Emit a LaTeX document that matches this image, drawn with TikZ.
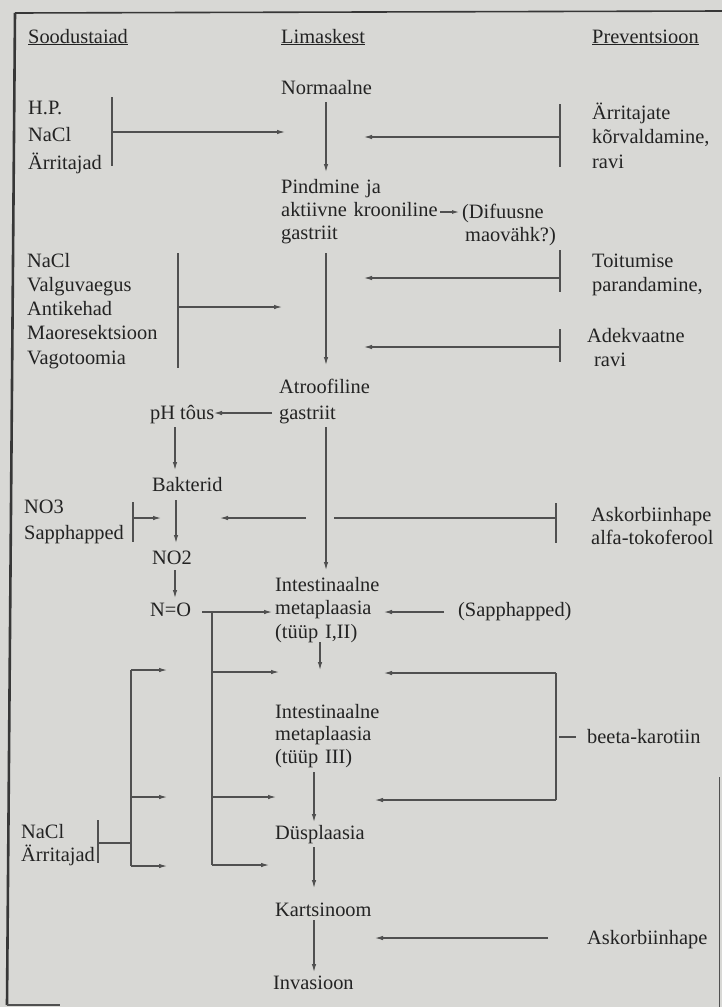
\documentclass[tikz,border=0pt]{standalone}
\usepackage{fontspec}
\setmainfont{Liberation Serif}
\usetikzlibrary{arrows.meta}
\definecolor{bg}{RGB}{216,216,213}
\definecolor{ink}{RGB}{35,35,35}
\definecolor{linec}{RGB}{80,80,80}
\definecolor{frame}{RGB}{55,55,55}
\newcommand\mlfont[1]{\fontsize{20.4}{#1}\selectfont\lineskiplimit=-30pt\relax\parindent=0pt\relax}
\tikzset{
  txt/.style={font=\fontsize{20.4}{24}\selectfont, text=ink, inner sep=0pt, anchor=base west},
  ml/.style={txt, text width=170pt, align=left, font=\mlfont{#1}},
  ln/.style={line width=1.1pt, draw=linec},
  arr/.style={ln, -{Latex[length=8pt,width=4.5pt]}},
}
\begin{document}
\begin{tikzpicture}[x=1pt,y=-1pt]
\useasboundingbox (0,0) rectangle (722,1007);
\fill[bg] (0,0) rectangle (722,1007);
% frame
\coordinate (ftl) at (15,13);
\coordinate (ftr) at (722,11);
\coordinate (fbl) at (7,1005);
\coordinate (fbr) at (60,1005);
\coordinate (rrt) at (719,777);
\coordinate (rrb) at (719,1007);
\draw[line width=2.6pt, draw=frame] (ftl) -- (fbl);
\draw[line width=1.6pt, draw=frame] (ftl) -- (ftr);
\draw[line width=1.2pt, draw=linec] (fbl) -- (fbr);
\draw[line width=0.8pt, draw=linec] (rrt) -- (rrb);

% headings
\node[txt] (hs) at (28,43) {\underline{Soodustaiad}};
\node[txt] (hl) at (281,43) {\underline{Limaskest}};
\node[txt] (hp) at (592,43) {\underline{Preventsioon}};

% central column
\node[txt] (norm) at (281,94) {Normaalne};
\node[ml=23] (pind) at (281,193) {Pindmine ja\\aktiivne krooniline\\gastriit};
\node[ml=23] (dif) at (462,218) {(Difuusne\\\hspace*{3pt}maovähk?)};
\node[ml=26] (atro) at (279,393) {Atroofiline\\gastriit};
\node[txt] (ph) at (150,419) {pH tôus};
\node[txt] (bakt) at (152,491) {Bakterid};
\node[txt] (no2) at (152,564) {NO2};
\node[txt] (nox) at (150,616) {N=O};
\node[ml=23.5] (int1) at (275,591) {Intestinaalne\\metaplaasia\\(tüüp I,II)};
\node[txt] (sapp) at (458,616) {(Sapphapped)};
\node[ml=22.5] (int2) at (275,718) {Intestinaalne\\metaplaasia\\(tüüp III)};
\node[txt] (dys) at (275,839) {Düsplaasia};
\node[txt] (kart) at (275,916) {Kartsinoom};
\node[txt] (inv) at (273,989) {Invasioon};

% left column
\node[ml=27.5] (l1) at (28,114) {H.P.\\NaCl\\Ärritajad};
\node[ml=24.25] (l2) at (27,267) {NaCl\\Valguvaegus\\Antikehad\\Maoresektsioon\\Vagotoomia};
\node[ml=26] (l3) at (24,513) {NO3\\Sapphapped};
\node[ml=23] (l4) at (21,838) {NaCl\\Ärritajad};

% right column
\node[ml=24.5] (r1) at (592,119) {Ärritajate\\kõrvaldamine,\\ravi};
\node[ml=24] (r2) at (592,267) {Toitumise\\parandamine,};
\node[ml=24] (r3) at (587,342) {Adekvaatne\\\hspace*{7pt}ravi};
\node[ml=23] (r4) at (591,521) {Askorbiinhape\\alfa-tokoferool};
\node[txt] (r5) at (587,743) {beeta-karotiin};
\node[txt] (r6) at (587,944) {Askorbiinhape};

% ---- section 1
\coordinate (b1t) at (112,97);  \coordinate (b1b) at (112,166);
\coordinate (b1m) at (112,132); \coordinate (e1) at (285,132);
\draw[ln] (b1t) -- (b1b);
\draw[arr] (b1m) -- (e1);
\coordinate (c1s) at (326,102); \coordinate (c1e) at (326,172);
\draw[arr] (c1s) -- (c1e);
\coordinate (rb1t) at (560,104); \coordinate (rb1b) at (560,167);
\coordinate (rb1m) at (560,137); \coordinate (re1) at (364,137);
\draw[ln] (rb1t) -- (rb1b);
\draw[arr] (rb1m) -- (re1);

% ---- section 2
\coordinate (ds) at (440,212); \coordinate (de) at (459,212);
\draw[ln, -{Latex[length=7pt,width=4pt]}] (ds) -- (de);
\coordinate (b2t) at (178,253); \coordinate (b2b) at (178,368);
\coordinate (b2m) at (178,307); \coordinate (e2) at (282,307);
\draw[ln] (b2t) -- (b2b);
\draw[arr] (b2m) -- (e2);
\coordinate (c2s) at (326,253); \coordinate (c2e) at (326,365);
\draw[arr] (c2s) -- (c2e);
\coordinate (rb2t) at (560,250); \coordinate (rb2b) at (560,292);
\coordinate (rb2m) at (560,278); \coordinate (re2) at (364,278);
\draw[ln] (rb2t) -- (rb2b);
\draw[arr] (rb2m) -- (re2);
\coordinate (rb3t) at (560,329); \coordinate (rb3b) at (560,362);
\coordinate (rb3m) at (560,347); \coordinate (re3) at (364,347);
\draw[ln] (rb3t) -- (rb3b);
\draw[arr] (rb3m) -- (re3);

% ---- section 3
\coordinate (phs) at (272,413); \coordinate (phe) at (214,413);
\draw[arr] (phs) -- (phe);
\coordinate (p2s) at (175,427); \coordinate (p2e) at (175,470);
\draw[arr] (p2s) -- (p2e);
\coordinate (k2s) at (176,500); \coordinate (k2e) at (176,543);
\draw[arr] (k2s) -- (k2e);
\coordinate (b3t) at (133,502); \coordinate (b3b) at (133,542);
\coordinate (b3m) at (133,518); \coordinate (e3) at (161,518);
\draw[ln] (b3t) -- (b3b);
\draw[arr] (b3m) -- (e3);
\coordinate (c3s) at (326,427); \coordinate (c3e) at (326,570);
\draw[arr] (c3s) -- (c3e);
\coordinate (rb4t) at (556,503); \coordinate (rb4b) at (556,543);
\coordinate (rb4m) at (556,518); \coordinate (g1) at (334,518);
\coordinate (g2) at (306,518); \coordinate (re4) at (220,518);
\draw[ln] (rb4t) -- (rb4b);
\draw[ln] (rb4m) -- (g1);
\draw[arr] (g2) -- (re4);

% ---- section 4
\coordinate (n2s) at (175,570); \coordinate (n2e) at (175,598);
\draw[arr] (n2s) -- (n2e);
\coordinate (nos) at (202,612); \coordinate (noe) at (272,612);
\draw[arr] (nos) -- (noe);
\coordinate (sps) at (444,612); \coordinate (spe) at (384,612);
\draw[arr] (sps) -- (spe);
\coordinate (i1s) at (320,642); \coordinate (i1e) at (320,670);
\draw[arr] (i1s) -- (i1e);
% N=O branch
\coordinate (vt) at (212,612); \coordinate (vb) at (212,865);
\coordinate (va) at (212,672); \coordinate (vae) at (279,672);
\coordinate (vm) at (212,797); \coordinate (vme) at (276,797);
\coordinate (vbe) at (269,865);
\draw[ln] (vt) -- (vb);
\draw[arr] (va) -- (vae);
\draw[arr] (vm) -- (vme);
\draw[arr] (vb) -- (vbe);
% NaCl / Arritajad bracket
\coordinate (lt) at (131,670); \coordinate (lb) at (131,866);
\coordinate (lte) at (167,670); \coordinate (lbe) at (167,866);
\coordinate (lm) at (131,797); \coordinate (lme) at (167,797);
\draw[ln] (lt) -- (lb);
\draw[arr] (lt) -- (lte);
\draw[arr] (lm) -- (lme);
\draw[arr] (lb) -- (lbe);
\coordinate (b4t) at (98,820); \coordinate (b4b) at (98,863);
\coordinate (b4m) at (98,843); \coordinate (lc) at (131,843);
\draw[ln] (b4t) -- (b4b);
\draw[ln] (b4m) -- (lc);
% beeta-karotiin bracket
\coordinate (rkt) at (556,673); \coordinate (rkb) at (556,800);
\coordinate (rkte) at (384,673); \coordinate (rkbe) at (375,800);
\draw[ln] (rkt) -- (rkb);
\draw[arr] (rkt) -- (rkte);
\draw[arr] (rkb) -- (rkbe);
\coordinate (tk1) at (559,737); \coordinate (tk2) at (576,737);
\draw[ln] (tk1) -- (tk2);
% lower chain
\coordinate (i2s) at (314,772); \coordinate (i2e) at (314,822);
\draw[arr] (i2s) -- (i2e);
\coordinate (dss) at (314,847); \coordinate (dse) at (314,888);
\draw[arr] (dss) -- (dse);
\coordinate (kas) at (314,920); \coordinate (kae) at (314,972);
\draw[arr] (kas) -- (kae);
\coordinate (ass) at (548,938); \coordinate (ase) at (375,938);
\draw[arr] (ass) -- (ase);
\end{tikzpicture}
\end{document}
